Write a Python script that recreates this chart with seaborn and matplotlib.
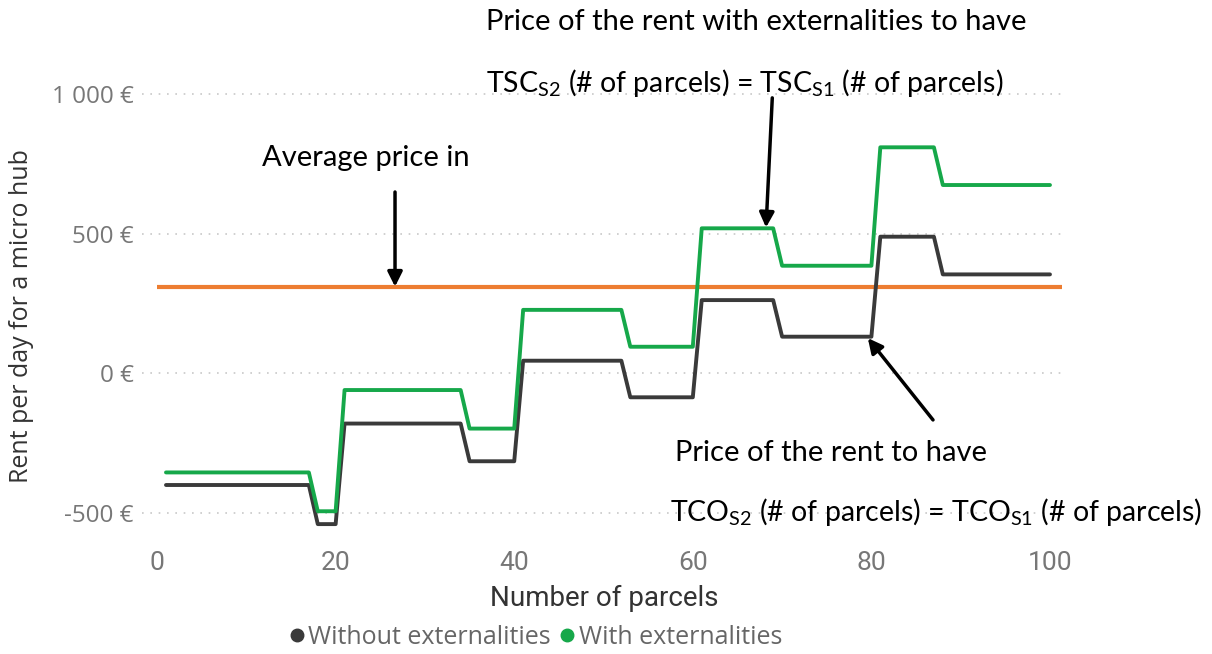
import numpy as np
import pandas as pd
import matplotlib
matplotlib.use("Agg")
import matplotlib.pyplot as plt
from matplotlib.lines import Line2D
from matplotlib.ticker import FuncFormatter
import seaborn as sns

# Vertices of the two step curves
parcels_without = [1, 17, 18, 20, 21, 34, 35, 40, 41, 52, 53, 60, 61, 69, 70, 80, 81, 87, 88, 100]
rent_without = [-400, -400, -540, -540, -180, -180, -315, -315, 45, 45, -86, -86,
                262, 262, 131, 131, 489, 489, 354, 354]
parcels_with = [1, 17, 18, 20, 21, 34, 35, 40, 41, 52, 53, 60, 61, 69, 70, 80, 81, 87, 88, 100]
rent_with = [-355, -355, -494, -494, -60, -60, -198, -198, 227, 227, 95, 95,
             519, 519, 385, 385, 809, 809, 674, 674]
average_price = 310
series_names = ["Without externalities", "With externalities"]
y_ticks = [-500, 0, 500, 1000]
x_ticks = [0, 20, 40, 60, 80, 100]

df = pd.concat([
    pd.DataFrame({"parcels": parcels_without, "rent": rent_without, "series": series_names[0]}),
    pd.DataFrame({"parcels": parcels_with, "rent": rent_with, "series": series_names[1]}),
])

sns.set_style("white")
plt.rcParams["font.family"] = ["Open Sans", "DejaVu Sans"]
plt.rcParams["mathtext.fontset"] = "custom"
plt.rcParams["mathtext.rm"] = "Lato"
plt.rcParams["mathtext.it"] = "Lato"

colors = {series_names[0]: "#3a3a3a", series_names[1]: "#16a84a"}
narrow = ["Liberation Sans Narrow", "Roboto", "DejaVu Sans"]

fig = plt.figure(figsize=(12.12, 6.54), dpi=100)
ax = fig.add_axes([0.1172, 0.1858, 0.759, 0.6748])

# grid
for t in y_ticks:
    ax.axhline(t, color="#c8c8c8", lw=1.2, ls=(0, (1, 4)), zorder=0)

ax.hlines(average_price, 0, 101.4, color="#ed7d31", lw=3, zorder=2)

sns.lineplot(data=df, x="parcels", y="rent", hue="series", palette=colors,
             estimator=None, lw=2.8, ax=ax, legend=False, zorder=3)

ax.set_xlim(-1.68, 101.34)
ax.set_ylim(-570, 1010)
ax.set_xticks(x_ticks)
ax.set_yticks(y_ticks)
ax.yaxis.set_major_formatter(FuncFormatter(lambda v, p: f"{v:,.0f}".replace(",", " ") + " €"))
ax.tick_params(axis="both", length=0, labelcolor="#777777")
ax.tick_params(axis="x", pad=13)
ax.tick_params(axis="y", pad=6, labelsize=17.5)
for lbl in ax.get_xticklabels():
    lbl.set_family(narrow)
    lbl.set_fontsize(19)
for s in ax.spines.values():
    s.set_visible(False)
ax.set_xlabel("")
ax.set_ylabel("")

fig.text(604 / 1212, 1 - 598 / 654, "Number of parcels", ha="center", va="center",
         fontsize=20, color="#333333", family=narrow)
fig.text(22 / 1212, 1 - 316 / 654, "Rent per day for a micro hub", ha="center", va="center",
         rotation=90, fontsize=18, color="#333333")

# legend
handles = [Line2D([], [], marker="o", ls="", color=colors[n], markersize=9) for n in series_names]
fig.legend(handles, series_names, loc="center", bbox_to_anchor=(534 / 1212, 1 - 637 / 654),
           ncol=2, frameon=False, fontsize=18, labelcolor="#666666", handletextpad=0.0,
           columnspacing=0.2, handlelength=0.9)

# annotations
txt = dict(fontsize=21, color="black", family=["Lato", "DejaVu Sans"], va="center", ha="left")
frm = dict(txt, fontsize=20.5)
fig.text(486 / 1212, 1 - 22 / 654, "Price of the rent with externalities to have", **txt)
fig.text(486 / 1212, 1 - 83 / 654,
         r"TSC$_{\mathrm{S2}}$ (# of parcels) = TSC$_{\mathrm{S1}}$ (# of parcels)", **frm)
fig.text(262 / 1212, 1 - 158 / 654, "Average price in", **txt)
fig.text(675 / 1212, 1 - 453 / 654, "Price of the rent to have", **txt)
fig.text(670 / 1212, 1 - 512 / 654,
         r"TCO$_{\mathrm{S2}}$ (# of parcels) = TCO$_{\mathrm{S1}}$ (# of parcels)", **frm)

arrow = dict(arrowstyle="-|>", color="black", lw=2.5, mutation_scale=22, shrinkA=0, shrinkB=0)
ax.annotate("", xy=(26.65, average_price), xytext=(26.65, 649), arrowprops=arrow, annotation_clip=False)
ax.annotate("", xy=(68.2, 522), xytext=(68.9, 986), arrowprops=arrow, annotation_clip=False)
ax.annotate("", xy=(79.6, 126), xytext=(86.9, -167), arrowprops=arrow, annotation_clip=False)

fig.savefig("out.png", dpi=100)
